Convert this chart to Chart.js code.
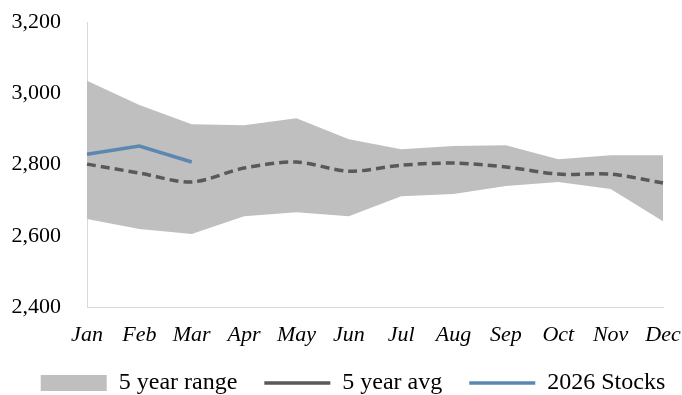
<!DOCTYPE html>
<html>
<head>
<meta charset="utf-8">
<script src="https://cdn.jsdelivr.net/npm/chart.js@4/dist/chart.umd.min.js"></script>
<style>
  html, body { margin: 0; padding: 0; background: #fff; }
  #wrap { width: 682px; height: 395px; }
</style>
</head>
<body>
<div id="wrap"><canvas id="chart"></canvas></div>
<script>
// months
const months = ['Jan', 'Feb', 'Mar', 'Apr', 'May', 'Jun', 'Jul', 'Aug', 'Sep', 'Oct', 'Nov', 'Dec'];

// 5 year range (top and bottom of the band)
const rangeHigh = [3035, 2967, 2913, 2910, 2930, 2871, 2843, 2852, 2854, 2815, 2826, 2826];
const rangeLow  = [2647, 2619, 2605, 2655, 2666, 2655, 2711, 2717, 2740, 2751, 2731, 2641];

// 5 year average and this year
const avg5 = [2801, 2776, 2751, 2790, 2807, 2781, 2798, 2804, 2793, 2773, 2773, 2748];
const stocks2026 = [2829, 2852, 2807];

const yTicks = [2400, 2600, 2800, 3000, 3200];

const serif = '"Liberation Serif", "DejaVu Serif", serif';

let ctx = document.getElementById('chart').getContext('2d');
window.myChart = new Chart(ctx, {
    type: 'line',
    data: {
        labels: months,
        datasets: [
            {
                label: '5 year range',
                data: rangeHigh,
                backgroundColor: '#bfbfbf',
                borderWidth: 0,
                pointRadius: 0,
                pointStyle: 'rect',
                fill: '+1',
                order: 3
            },
            {
                label: 'low',
                data: rangeLow,
                backgroundColor: '#bfbfbf',
                borderWidth: 0,
                pointRadius: 0,
                fill: false,
                order: 3
            },
            {
                label: '5 year avg',
                data: avg5,
                borderColor: '#595959',
                backgroundColor: '#595959',
                borderWidth: 3.5,
                borderDash: [9, 5],
                pointRadius: 0,
                pointStyle: 'line',
                tension: 0.3,
                fill: false,
                order: 2
            },
            {
                label: '2026 Stocks',
                data: stocks2026,
                borderColor: '#5b87b0',
                backgroundColor: '#5b87b0',
                borderWidth: 3.5,
                pointRadius: 0,
                pointStyle: 'line',
                fill: false,
                order: 1
            }
        ]
    },
    options: {
        responsive: true,
        maintainAspectRatio: false,
        animation: false,
        layout: { padding: 0 },
        plugins: {
            tooltip: { enabled: false },
            legend: {
                position: 'bottom',
                labels: {
                    usePointStyle: true,
                    boxWidth: 58,
                    pointStyleWidth: 66,
                    boxHeight: 16,
                    padding: 3,
                    color: '#000',
                    font: { family: serif, size: 24 },
                    filter: item => item.text !== 'low',
                    sort: (a, b) => a.datasetIndex - b.datasetIndex,
                    generateLabels: chart => {
                        const items = Chart.defaults.plugins.legend.labels.generateLabels(chart);
                        items.forEach(it => { if (it.text !== '2026 Stocks' && it.text !== 'low') it.text = it.text + '    '; });
                        return items;
                    }
                }
            }
        },
        scales: {
            x: {
                offset: false,
                grid: { display: false },
                border: { display: true, color: '#d9d9d9' },
                afterFit: axis => {
                    axis.height = 61;
                    axis.paddingLeft = 0;
                    axis.paddingRight = 19;
                },
                ticks: {
                    color: '#000',
                    padding: 7,
                    maxRotation: 0,
                    font: { family: serif, size: 22, style: 'italic' }
                }
            },
            y: {
                min: 2400,
                max: 3200,
                afterBuildTicks: axis => { axis.ticks = yTicks.map(v => ({ value: v })); },
                afterFit: axis => {
                    axis.width = 87;
                    axis.paddingTop = 22;
                    axis.paddingBottom = 0;
                },
                grid: { display: false },
                border: { display: true, color: '#d9d9d9' },
                ticks: {
                    color: '#000',
                    padding: 18,
                    font: { family: serif, size: 22 },
                    callback: v => v.toLocaleString('en-US')
                }
            }
        }
    }
});

// the legend reserves 10px of extra space below its row, drop it so it sits lower,
// and nudge the centred row a little to the right
const legendFit = window.myChart.legend.fit;
window.myChart.legend.fit = function () {
    legendFit.call(this);
    this.height -= 10;
    if (this.lineWidths && this.lineWidths.length) this.lineWidths[0] -= 24;
};
window.myChart.update();
</script>
</body>
</html>
